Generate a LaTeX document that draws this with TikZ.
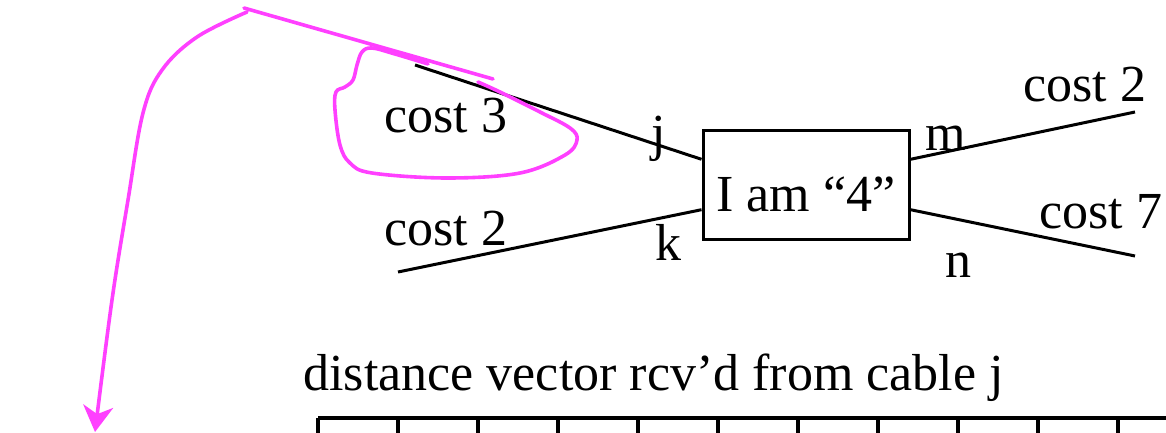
\documentclass[tikz,border=0pt]{standalone}
\usepackage{fontspec}
\setmainfont{Liberation Serif}
\usetikzlibrary{calc, arrows.meta}
\definecolor{pen}{RGB}{255,64,255}
\tikzstyle{me}=[draw, line width=1.5pt, minimum width=103pt, minimum height=54.5pt, inner sep=0pt, text height=27.5pt]
\tikzstyle{lbl}=[anchor=base west, inner sep=0pt]
\tikzstyle{ink}=[pen, line width=1.8pt, line cap=round, line join=round]

\begin{document}
\begin{tikzpicture}[x=0.5pt, y=-0.5pt, line width=1.5pt, font=\fontsize{26}{30}\selectfont]
    \useasboundingbox (0,0) rectangle (1166,433);
    \node[me] (box) at (806,184.5) {I am “4”};
    \coordinate (cj) at (415,65);
    \coordinate (ck) at (398,272);
    \coordinate (cm) at (1135,112);
    \coordinate (cn) at (1135,256);
    \draw (cj) -- ($(box.north west)!0.275!(box.south west)$);
    \draw (ck) -- ($(box.north west)!0.725!(box.south west)$);
    \draw (cm) -- ($(box.north east)!0.275!(box.south east)$);
    \draw (cn) -- ($(box.north east)!0.725!(box.south east)$);
    \node[lbl] (c3) at (383,133) {cost 3};
    \node[lbl] (c2l) at (383,245) {cost 2};
    \node[lbl] (c2r) at (1022,102) {cost 2};
    \node[lbl] (c7) at (1038,228) {cost 7};
    \node[lbl] (lj) at (650,150) {j};
    \node[lbl] (lk) at (654,260) {k};
    \node[lbl] (lm) at (924,150) {m};
    \node[lbl] (ln) at (944,277) {n};
    \node[lbl] (title) at (302,390) {distance vector rcv'd from cable j};
    % received vector
    \draw[line width=2pt] (318,418) -- (1170,418);
    \foreach \i in {0,...,10}
        \draw[line width=2pt] (318+80*\i,418) -- (318+80*\i,440);
    % pen marks
    \draw[ink] (244,8) -- (493,79);
    \draw[ink, -{Stealth[length=13pt, width=15pt, inset=4pt]}] plot[smooth, tension=0.6] coordinates {(247,12) (197,37) (162,70) (143,113) (128,200) (112,300) (95,432)};
    \draw[ink] plot[smooth, tension=0.6] coordinates {(428,64) (395,54) (372,48) (362,52) (357,65) (353,80) (345,87) (336,92) (335,110) (340,145) (350,163) (372,173) (447,178) (520,173) (565,155) (577,140) (570,128) (540,112) (500,92) (478,82)};
\end{tikzpicture}
\end{document}
